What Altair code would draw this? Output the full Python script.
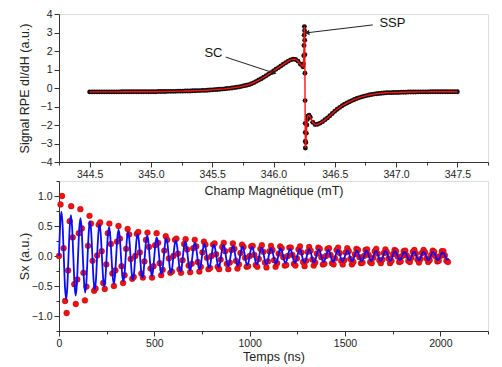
import altair as alt
import numpy as np
import pandas as pd

FONT = "Liberation Sans"

# ---------------- top panel : EPR spectrum ----------------
field_start = 344.50
field_step = 0.02
epr_signal = [
    -0.21, -0.21, -0.21, -0.21, -0.21, -0.21, -0.21, -0.21, -0.21, -0.21, -0.21, -0.21, -0.21,
    -0.20, -0.20, -0.20, -0.20, -0.20, -0.20, -0.20, -0.20, -0.20, -0.20, -0.20, -0.20,
    -0.20, -0.20, -0.20, -0.19, -0.19, -0.19, -0.19, -0.18, -0.18, -0.18, -0.18, -0.17, -0.17, -0.17,
    -0.16, -0.16, -0.16, -0.15, -0.15, -0.14,
    -0.14, -0.13, -0.13, -0.12, -0.11, -0.10, -0.09, -0.08, -0.07, -0.06, -0.05, -0.03, -0.02, 0.00,
    0.02, 0.04, 0.06, 0.09, 0.12, 0.15,
    0.18, 0.23, 0.29, 0.36, 0.43, 0.50, 0.58, 0.66, 0.75, 0.83, 0.92, 1.01, 1.10, 1.19, 1.28, 1.37,
    1.45, 1.52, 1.56, 1.54, 1.45, 1.28,
    1.15, -3.24, -1.52, -1.58, -1.85, -1.97, -1.96, -1.90, -1.82, -1.72, -1.62, -1.50, -1.38, -1.26,
    -1.15, -1.05, -0.96, -0.88, -0.81, -0.74, -0.68, -0.62, -0.57, -0.52, -0.48, -0.44, -0.41, -0.38,
    -0.35, -0.33, -0.31, -0.30, -0.28, -0.27, -0.26, -0.25, -0.25, -0.24,
    -0.24, -0.24, -0.23, -0.23, -0.23, -0.22, -0.22, -0.22, -0.22, -0.21, -0.21, -0.21, -0.21, -0.21,
    -0.20, -0.20, -0.20, -0.20, -0.20, -0.20, -0.20, -0.20, -0.20, -0.20, -0.20, -0.20,
]
spike_field = [346.244, 346.247, 346.249, 346.2505, 346.252, 346.2533, 346.2545, 346.2555, 346.2565,
               346.2575, 346.2585, 346.2592, 346.2598, 346.264, 346.268, 346.272, 346.276, 346.290]
spike_signal = [1.30, 1.75, 2.30, 2.85, 3.32, 3.10, 2.58, 1.80, 0.80,
                -0.68, -1.91, -2.40, -2.88, -2.95, -2.45, -2.00, -1.70, -1.47]

ann_label = ["SC", "SSP"]
ann_text_x = [345.51, 346.97]
ann_text_y = [1.88, 3.53]
arrow_x = [345.61, 346.81]
arrow_y = [1.67, 3.41]
arrow_x2 = [346.00, 346.28]
arrow_y2 = [0.82, 2.99]
arrow_angle = [108, 263]

# ---------------- bottom panel : Sx(t) ----------------
data_step = 8.0      # ns between measured points
sx_data = [
    0.00, 0.86, 1.00, 0.13, -0.75, -0.95, -0.24, 0.58, 0.83, 0.31, -0.47, -0.80, -0.39,
    0.38, 0.78, 0.46, -0.28, -0.74, -0.51, 0.17, 0.67, 0.54, -0.08, -0.58, -0.54,
    0.01, 0.52, 0.56, 0.08, -0.45, -0.55, -0.14, 0.38, 0.54, 0.20, -0.29, -0.50, -0.24,
    0.24, 0.50, 0.29, -0.17, -0.45, -0.32, 0.12, 0.45, 0.36, -0.05, -0.38, -0.35,
    0.00, 0.37, 0.40, 0.06, -0.29, -0.36, -0.09, 0.27, 0.39, 0.15, -0.21, -0.36, -0.17,
    0.18, 0.38, 0.22, -0.12, -0.32, -0.23, 0.09, 0.33, 0.27, -0.04, -0.28, -0.26,
    0.00, 0.27, 0.29, 0.04, -0.22, -0.28, -0.07, 0.20, 0.28, 0.11, -0.16, -0.27, -0.13,
    0.13, 0.27, 0.16, -0.10, -0.26, -0.18, 0.06, 0.24, 0.19, -0.03, -0.22, -0.20,
    0.00, 0.19, 0.21, 0.03, -0.18, -0.22, -0.06, 0.15, 0.22, 0.08, -0.13, -0.22, -0.11,
    0.10, 0.21, 0.12, -0.08, -0.21, -0.14, 0.05, 0.19, 0.15, -0.03, -0.18, -0.17,
    0.00, 0.16, 0.17, 0.02, -0.15, -0.18, -0.05, 0.12, 0.18, 0.07, -0.11, -0.19, -0.09,
    0.08, 0.17, 0.10, -0.07, -0.18, -0.12, 0.04, 0.16, 0.13, -0.02, -0.16, -0.15,
    0.00, 0.14, 0.14, 0.02, -0.13, -0.16, -0.04, 0.11, 0.16, 0.06, -0.10, -0.17, -0.08,
    0.07, 0.15, 0.09, -0.06, -0.16, -0.11, 0.04, 0.14, 0.12, -0.02, -0.14, -0.13,
    0.00, 0.12, 0.13, 0.02, -0.12, -0.14, -0.04, 0.10, 0.14, 0.05, -0.08, -0.14, -0.07,
    0.06, 0.13, 0.08, -0.05, -0.14, -0.10, 0.03, 0.12, 0.10, -0.02, -0.12, -0.11,
    0.00, 0.10, 0.11, 0.02, -0.10, -0.12, -0.03, 0.08, 0.12, 0.04, -0.07, -0.12, -0.06,
    0.05, 0.11, 0.06, -0.04, -0.12, -0.08, 0.03, 0.10, 0.08, -0.01, -0.10, -0.09,
    0.00, 0.08, 0.09, 0.01, -0.08, -0.10, -0.03, 0.07, 0.10, 0.04, -0.06, -0.11, -0.05,
    0.05, 0.10, 0.06, -0.04, -0.10, -0.07, 0.02, 0.09, 0.07, -0.01, -0.09, -0.08,
    0.00, 0.08, 0.08, 0.01, -0.08, -0.10,
]
fit_step = 6.25      # ns between points of the fitted curve
sx_fit = [
    0.00, 0.52, 0.74, 0.52, 0.00, -0.51, -0.72, -0.51,
    0.00, 0.48, 0.68, 0.48, 0.00, -0.47, -0.66, -0.47,
    0.00, 0.45, 0.63, 0.45, 0.00, -0.43, -0.61, -0.43,
    0.00, 0.41, 0.58, 0.41, 0.00, -0.40, -0.56, -0.40,
    0.00, 0.37, 0.53, 0.37, 0.00, -0.36, -0.51, -0.36,
    0.00, 0.34, 0.48, 0.34, 0.00, -0.33, -0.46, -0.33,
    0.00, 0.31, 0.44, 0.31, 0.00, -0.30, -0.42, -0.30,
    0.00, 0.28, 0.40, 0.28, 0.00, -0.28, -0.39, -0.28,
    0.00, 0.26, 0.37, 0.26, 0.00, -0.26, -0.36, -0.26,
    0.00, 0.24, 0.34, 0.24, 0.00, -0.23, -0.33, -0.23,
    0.00, 0.22, 0.31, 0.22, 0.00, -0.21, -0.30, -0.21,
    0.00, 0.21, 0.29, 0.21, 0.00, -0.20, -0.28, -0.20,
    0.00, 0.18, 0.26, 0.18, 0.00, -0.18, -0.26, -0.18,
    0.00, 0.17, 0.24, 0.17, 0.00, -0.17, -0.24, -0.17,
    0.00, 0.16, 0.22, 0.16, 0.00, -0.16, -0.22, -0.16,
    0.00, 0.14, 0.20, 0.14, 0.00, -0.14, -0.20, -0.14,
    0.00, 0.13, 0.19, 0.13, 0.00, -0.13, -0.19, -0.13,
    0.00, 0.13, 0.18, 0.13, 0.00, -0.12, -0.17, -0.12,
    0.00, 0.12, 0.17, 0.12, 0.00, -0.11, -0.16, -0.11,
    0.00, 0.11, 0.16, 0.11, 0.00, -0.11, -0.15, -0.11,
    0.00, 0.11, 0.15, 0.11, 0.00, -0.10, -0.14, -0.10,
    0.00, 0.10, 0.14, 0.10, 0.00, -0.10, -0.14, -0.10,
    0.00, 0.09, 0.13, 0.09, 0.00, -0.09, -0.13, -0.09,
    0.00, 0.09, 0.13, 0.09, 0.00, -0.08, -0.12, -0.08,
    0.00, 0.08, 0.12, 0.08, 0.00, -0.08, -0.12, -0.08,
    0.00, 0.08, 0.12, 0.08, 0.00, -0.08, -0.11, -0.08,
    0.00, 0.08, 0.11, 0.08, 0.00, -0.08, -0.11, -0.08,
    0.00, 0.08, 0.11, 0.08, 0.00, -0.07, -0.10, -0.07,
    0.00, 0.07, 0.10, 0.07, 0.00, -0.07, -0.10, -0.07,
    0.00, 0.07, 0.10, 0.07, 0.00, -0.06, -0.09, -0.06,
    0.00, 0.06, 0.09, 0.06, 0.00, -0.06, -0.09, -0.06,
    0.00, 0.06, 0.09, 0.06, 0.00, -0.06, -0.09, -0.06,
    0.00, 0.06, 0.09, 0.06, 0.00, -0.06, -0.08, -0.06,
    0.00, 0.06, 0.08, 0.06, 0.00, -0.06, -0.08, -0.06,
    0.00, 0.06, 0.08, 0.06, 0.00, -0.06, -0.08, -0.06,
    0.00, 0.06, 0.08, 0.06, 0.00, -0.05, -0.07, -0.05,
    0.00, 0.05, 0.07, 0.05, 0.00, -0.05, -0.07, -0.05,
    0.00, 0.05, 0.07, 0.05, 0.00, -0.05, -0.07, -0.05,
    0.00, 0.05, 0.07, 0.05, 0.00, -0.05, -0.07, -0.05,
    0.00, 0.05, 0.07, 0.05, 0.00, -0.05, -0.07, -0.05,
    0.00, 0.04, 0.06, 0.04, 0.00, -0.04, -0.06, -0.04,
]

# ---------------- data frames ----------------
grid_field = field_start + field_step * np.arange(len(epr_signal))
epr_df = pd.DataFrame({
    "B": np.concatenate([grid_field, spike_field]),
    "S": np.concatenate([epr_signal, spike_signal]),
}).sort_values("B").reset_index(drop=True)

ann_df = pd.DataFrame({
    "label": ann_label, "B": ann_text_x, "S": ann_text_y,
    "ax": arrow_x, "ay": arrow_y, "ax2": arrow_x2, "ay2": arrow_y2, "ang": arrow_angle,
})

sx_df = pd.DataFrame({"t": data_step * np.arange(len(sx_data)), "sx": sx_data})
fit_df = pd.DataFrame({"t": fit_step * np.arange(len(sx_fit)), "sx": sx_fit})


def make_axis(title, values, fmt, major_test, title_pad, label_pad=2):
    return alt.Axis(
        title=title, values=values, format=fmt,
        labelExpr=f"({major_test}) ? datum.label : ''",
        tickSize={"condition": {"test": f"!({major_test})", "value": 3}, "value": 5},
        grid=False, domainColor="#333", tickColor="#333", labelColor="#222",
        titleColor="#222", labelFont=FONT, titleFont=FONT, labelFontSize=10.5,
        titleFontSize=12.5, titleFontWeight="normal", titlePadding=title_pad,
        labelPadding=label_pad, labelFlush=False, labelOverlap=False,
    )


half_test = "abs(datum.value * 2 - round(datum.value * 2)) < 0.001"
int_test = "abs(datum.value - round(datum.value)) < 0.001"

top_x_vals = [344.25 + 0.25 * i for i in range(15)]
top_y_vals = [-4 + 0.5 * i for i in range(17)]
bot_x_vals = [250 * i for i in range(10)]
bot_y_vals = [-1.25 + 0.25 * i for i in range(11)]

top_xaxis = make_axis("Champ Magnétique (mT)", top_x_vals, ".1f", half_test, 5)
top_yaxis = make_axis("Signal RPE dI/dH (a.u.)", top_y_vals, "d", int_test, 8.5)
bot_xaxis = make_axis("Temps (ns)", bot_x_vals, "d", "datum.value % 500 == 0", 2)
bot_yaxis = make_axis("Sx (a.u.)", bot_y_vals, ".1f", half_test, 0)

txs = alt.Scale(domain=[344.25, 347.75], nice=False, zero=False)
tys = alt.Scale(domain=[-4, 4], nice=False, zero=False)
bxs = alt.Scale(domain=[0, 2250], nice=False, zero=False)
bys = alt.Scale(domain=[-1.25, 1.25], nice=False, zero=False)

tX = lambda f: alt.X(f"{f}:Q", scale=txs, axis=top_xaxis)
tY = lambda f: alt.Y(f"{f}:Q", scale=tys, axis=top_yaxis)

dots = alt.Chart(epr_df).mark_circle(size=24, color="#111", opacity=1).encode(x=tX("B"), y=tY("S"))
fitline = alt.Chart(epr_df).mark_line(color="#ff1010", strokeWidth=1.4).encode(
    x=tX("B"), y=tY("S"), order="B:Q")
rules = alt.Chart(ann_df).mark_rule(color="#222", strokeWidth=1).encode(
    x=tX("ax"), y=tY("ay"), x2="ax2:Q", y2="ay2:Q")
heads = alt.Chart(ann_df).mark_point(shape="triangle", filled=True, size=28, color="#222", opacity=1).encode(
    x=tX("ax2"), y=tY("ay2"), angle=alt.Angle("ang:Q", scale=None))
labels = alt.Chart(ann_df).mark_text(font=FONT, fontSize=13, color="#111").encode(
    x=tX("B"), y=tY("S"), text="label:N")

top = alt.layer(dots, fitline, rules, heads, labels).properties(width=429, height=148)

bX = lambda: alt.X("t:Q", scale=bxs, axis=bot_xaxis)
bY = lambda: alt.Y("sx:Q", scale=bys, axis=bot_yaxis)

reddots = alt.Chart(sx_df).mark_circle(size=34, color="#f21010", opacity=1, stroke="#a00000",
                                       strokeWidth=0.4).encode(x=bX(), y=bY())
blueline = alt.Chart(fit_df).mark_line(color="#0a0aff", strokeWidth=1.8, interpolate="monotone").encode(
    x=bX(), y=bY(), order="t:Q")

bottom = alt.layer(reddots, blueline).properties(width=429, height=150)

chart = alt.vconcat(top, bottom, spacing=19, bounds="flush").properties(
    padding={"left": 9, "top": 0, "right": 5, "bottom": 0}
).configure_view(stroke=None).configure(background="white")

chart.save("out.html", embed_options={"renderer": "svg", "actions": False})
